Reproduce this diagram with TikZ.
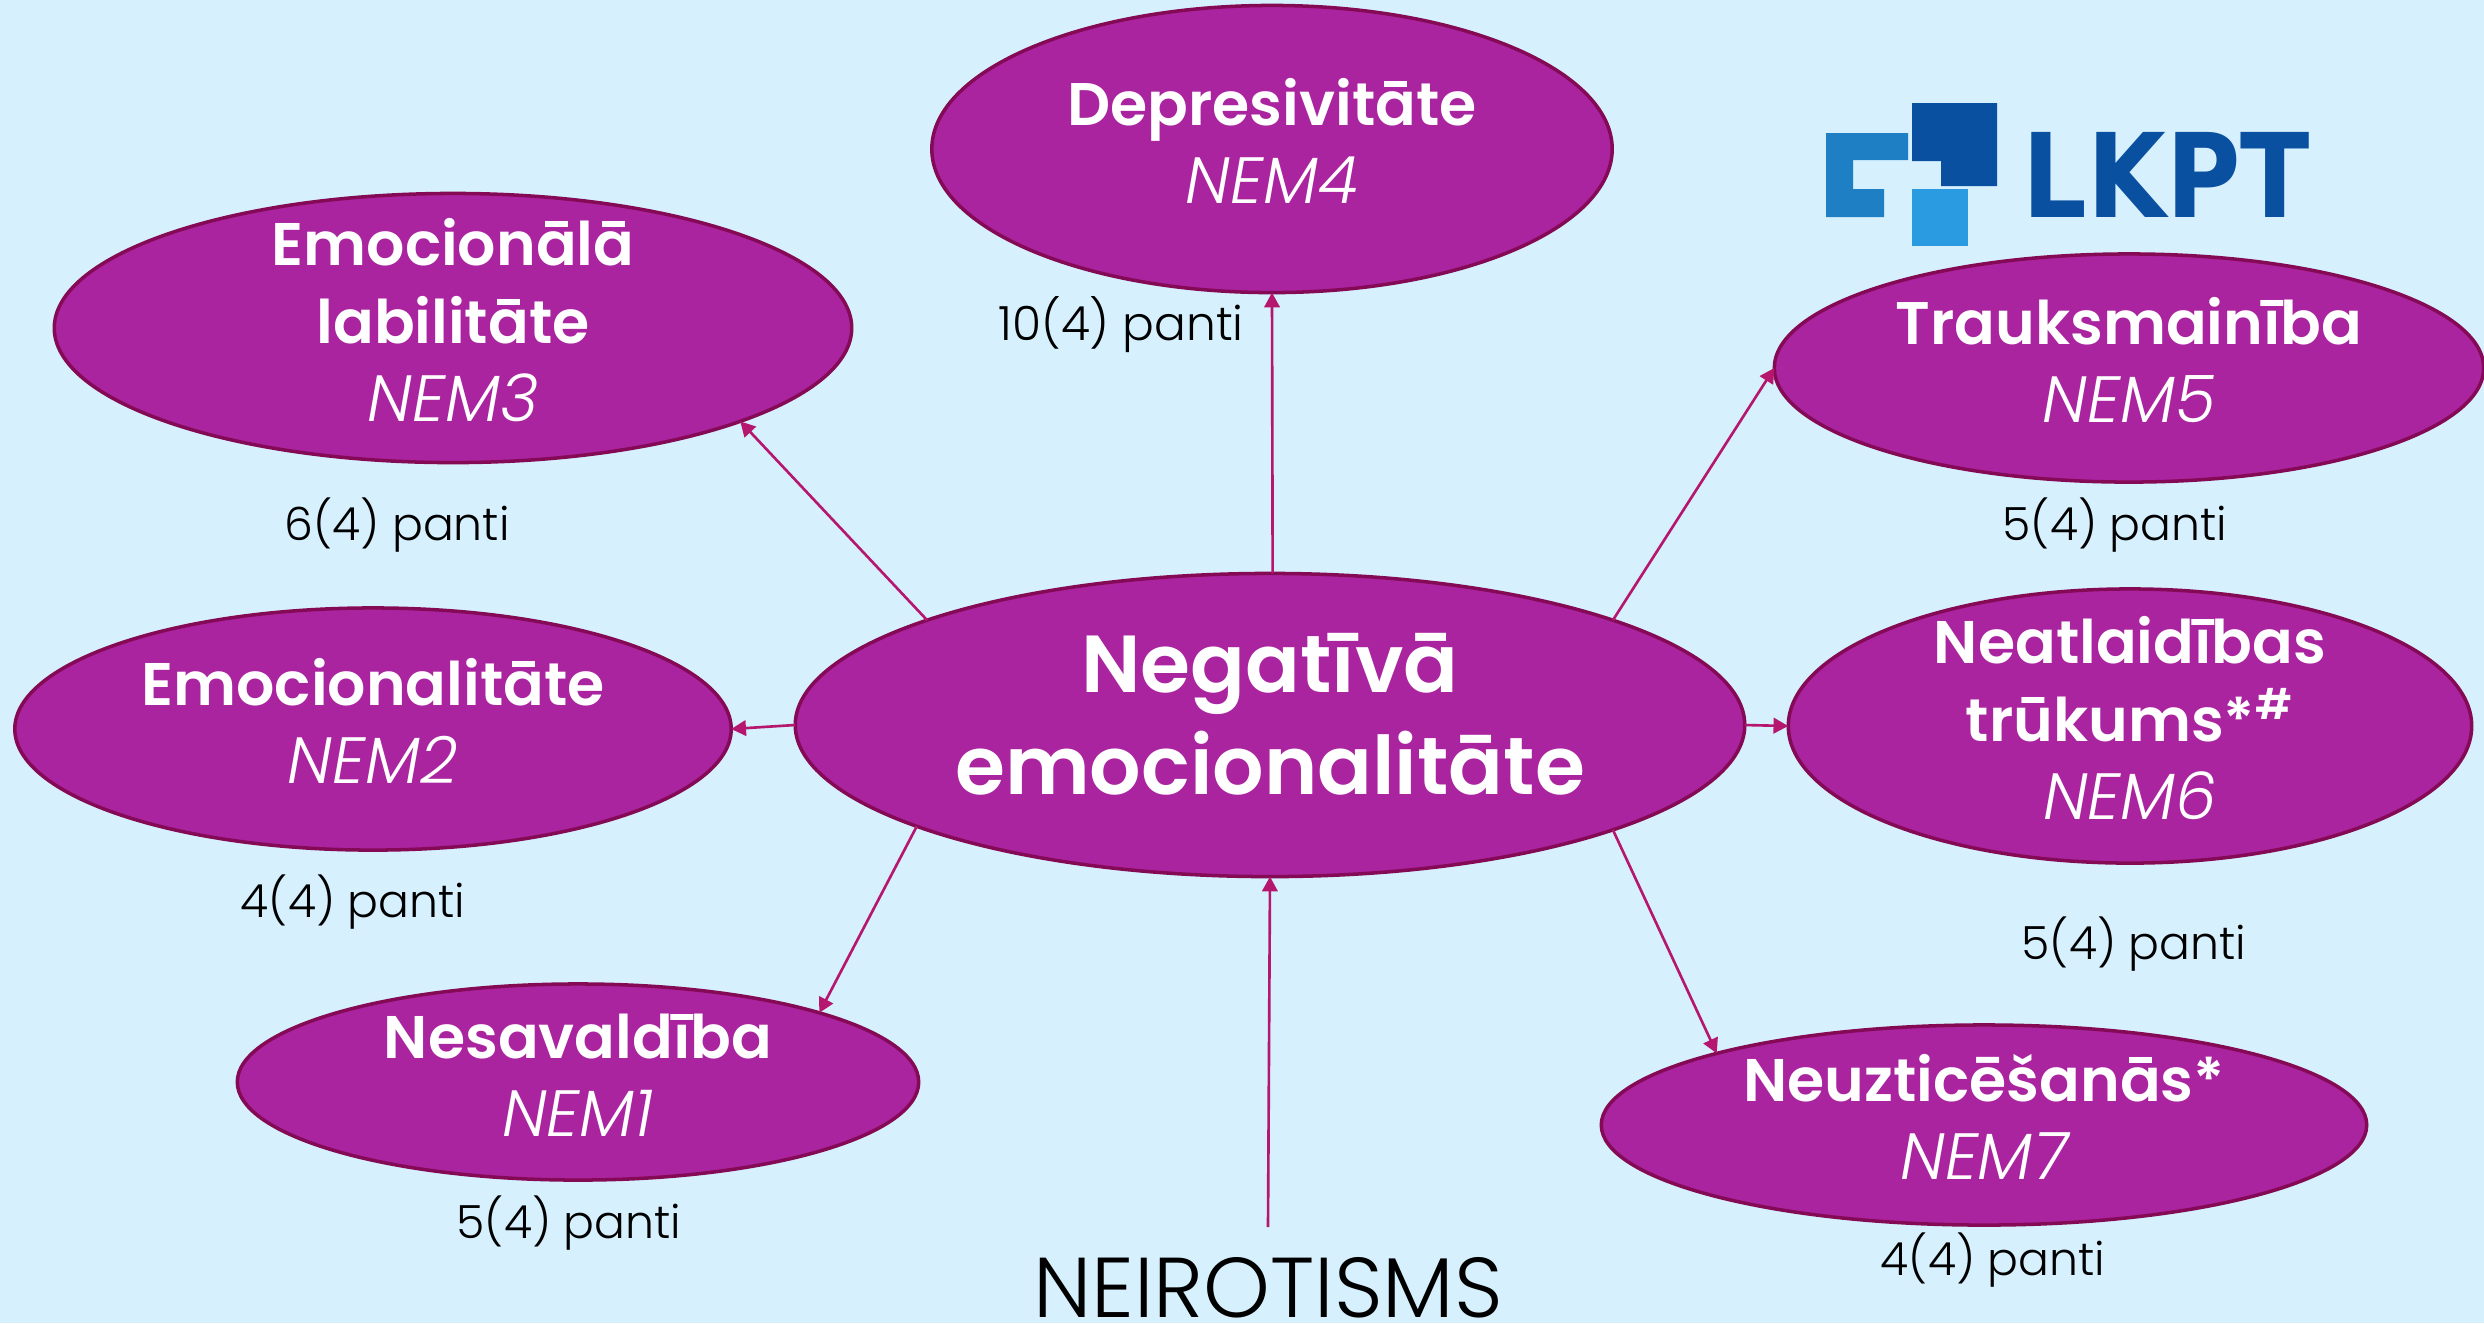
\documentclass[tikz,border=0pt]{standalone}
\usepackage{fontspec}
\usetikzlibrary{shapes.geometric,arrows.meta}
\setmainfont{Poppins Light}[ItalicFont=Poppins Light Italic,BoldFont=Poppins SemiBold]
\newfontfamily\logofont{DejaVu Sans}
\definecolor{bgc}{HTML}{D6F0FE}
\definecolor{fillc}{HTML}{AA24A0}
\definecolor{edgec}{HTML}{850A55}
\definecolor{arrc}{HTML}{B5166E}
\definecolor{logoa}{HTML}{1F7FC4}
\definecolor{logob}{HTML}{0A50A0}
\definecolor{logoc}{HTML}{2A9BE0}
\newcommand{\pxfont}[2]{\fontsize{#1}{#2}\selectfont}
\tikzset{
  x=0.01cm,y=-0.01cm,
  oval/.style={ellipse,draw=edgec,fill=fillc,line width=1pt,inner sep=0pt,outer sep=0pt,text=white,font=\pxfont{17.1}{22.1}},
  hub/.style={oval,font=\pxfont{23}{28.8}},
  count/.style={inner sep=0pt,text=black,font=\pxfont{13}{16}},
  link/.style={draw=arrc,line width=0.75pt,-{Triangle[length=4.2pt,width=4.4pt]}}
}
\newcommand{\nem}[1]{{\itshape\mdseries\pxfont{18.6}{22.1}#1}}
% text of an oval: takes no room, so that the oval keeps the size it is given
\newcommand{\ovaltext}[2]{\makebox[0pt][c]{\raisebox{\dimexpr#1-0.25em\relax}[0pt][0pt]{\begin{tabular}[c]{@{}c@{}}#2\end{tabular}}}}
\begin{document}
\begin{tikzpicture}
\path[fill=bgc] (0,0) rectangle (2484,1323);
\useasboundingbox (0,0) rectangle (2484,1323);
% logo
\fill[logoa] (1826,133) -- (1908,133) -- (1908,160) -- (1853,160) -- (1853,189) -- (1884,189) -- (1884,217) -- (1826,217) -- cycle;
\fill[logob] (1912,103) -- (1997,103) -- (1997,186) -- (1941,186) -- (1941,161) -- (1912,161) -- cycle;
\fill[logoc] (1912,189) rectangle (1968,246);
\node[anchor=base west,inner sep=0pt,text=logob,font=\logofont\bfseries\pxfont{33.2}{36}] (logo) at (2022,217) {\scalebox{0.87}[1]{LKPT}};
% ellipses
\node[hub,minimum width=9.49cm,minimum height=3.03cm] (c) at (1270,725) {\ovaltext{0pt}{\textbf{Negatīvā}\\\textbf{emocionalitāte}}};
\node[oval,minimum width=6.80cm,minimum height=2.87cm] (n4) at (1272,149) {\ovaltext{0pt}{\textbf{Depresivitāte}\\\nem{NEM4}}};
\node[oval,minimum width=7.97cm,minimum height=2.69cm] (n3) at (453,328) {\ovaltext{0pt}{\textbf{Emocionālā}\\\textbf{labilitāte}\\\nem{NEM3}}};
\node[oval,minimum width=7.09cm,minimum height=2.28cm] (n5) at (2129,368) {\ovaltext{0pt}{\textbf{Trauksmainība}\\\nem{NEM5}}};
\node[oval,minimum width=7.16cm,minimum height=2.42cm] (n2) at (373,729) {\ovaltext{0pt}{\textbf{Emocionalitāte}\\\nem{NEM2}}};
\node[oval,minimum width=6.83cm,minimum height=2.74cm] (n6) at (2130,726) {\ovaltext{0pt}{\textbf{Neatlaidības}\\\textbf{trūkums*\textsuperscript{\#}}\\\nem{NEM6}}};
\node[oval,minimum width=6.81cm,minimum height=1.96cm] (n1) at (578,1082) {\ovaltext{0pt}{\textbf{Nesavaldība}\\\nem{NEM1}}};
\node[oval,minimum width=7.65cm,minimum height=2.0cm] (n7) at (1984,1125) {\ovaltext{0pt}{\textbf{Neuzticēšanās*}\\\nem{NEM7}}};
% counts
\node[count,font=\pxfont{13.4}{16}] (l4) at (1121,325) {10(4) panti};
\node[count] (l3) at (397,525) {6(4) panti};
\node[count] (l5) at (2115,525) {5(4) panti};
\node[count] (l2) at (353,902) {4(4) panti};
\node[count] (l6) at (2134,944) {5(4) panti};
\node[count] (l1) at (569,1223) {5(4) panti};
\node[count] (l7) at (1993,1260) {4(4) panti};
\node[anchor=base,inner sep=0pt,text=black,text height=17pt,text depth=0pt,font=\pxfont{24.15}{28}] (neu) at (1268,1317) {NEIROTISMS};
\coordinate (neutop) at (1268,1227);
% connectors
\draw[link] (c.89.25) -- (n4.270);
\draw[link] (c.163) -- (n3.-18.5);
\draw[link] (c.17.9) -- (n5.180);
\draw[link] (c.0) -- (n6.180);
\draw[link] (c.-17.9) -- (n7.165.1);
\draw[link] (c.180) -- (n2.0);
\draw[link] (c.196.9) -- (n1.16.4);
\draw[link] (neutop) -- (c.270);
\end{tikzpicture}
\end{document}
